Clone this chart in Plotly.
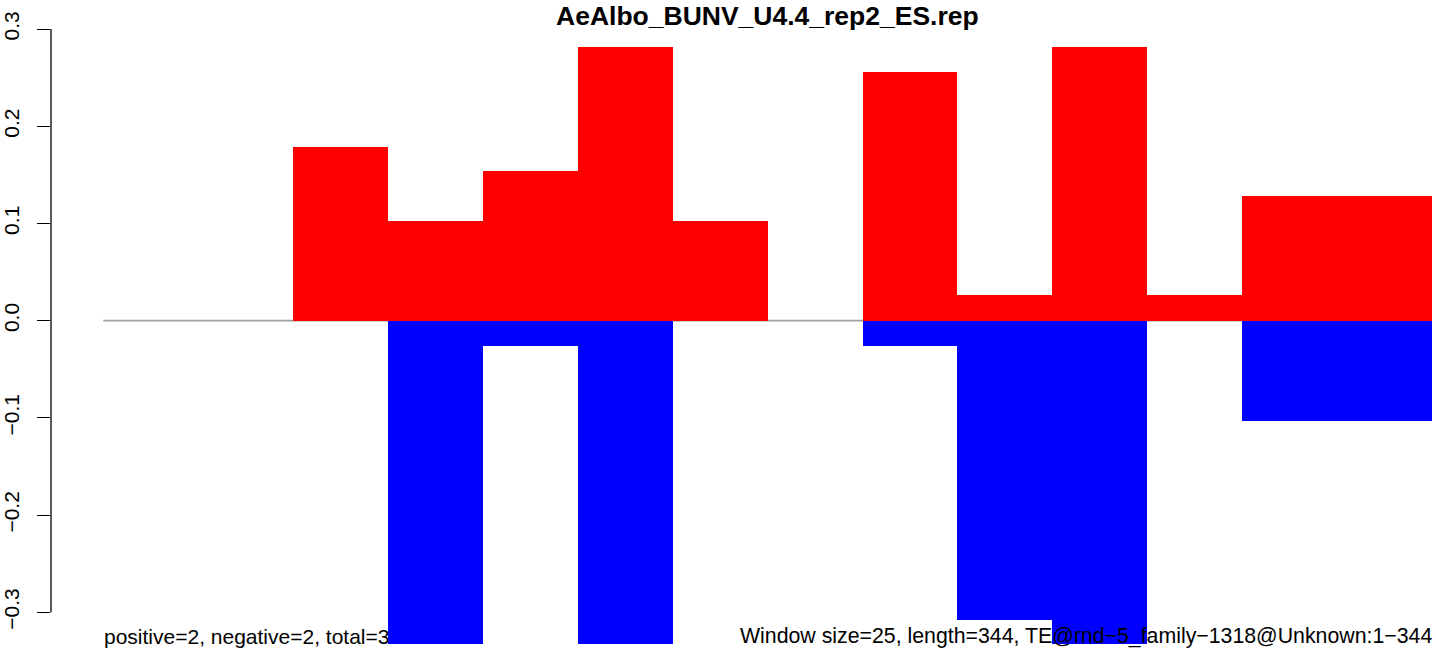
import plotly.graph_objects as go

# Data (per 25-bp window, 14 windows over length 344)
windows = list(range(14))
positive = [0, 0, 0.179, 0.103, 0.154, 0.282, 0.103, 0, 0.256, 0.026, 0.282, 0.026, 0.128, 0.128]
negative = [0, 0, 0, -0.333, -0.026, -0.333, 0, 0, -0.026, -0.308, -0.333, 0, -0.103, -0.103]
y_ticks = [-0.3, -0.2, -0.1, 0.0, 0.1, 0.2, 0.3]
y_tick_labels = ["\u22120.3", "\u22120.2", "\u22120.1", "0.0", "0.1", "0.2", "0.3"]

title_text = "AeAlbo_BUNV_U4.4_rep2_ES.rep"
left_note = "positive=2, negative=2, total=3"
right_note = "Window size=25, length=344, TE@rnd\u22125_family\u22121318@Unknown:1\u2212344"

W, H = 1436, 656
ML, MR, MT, MB = 51, 0, 29, 11
plot_w = W - ML - MR
plot_h = H - MT - MB

font_family = "Liberation Sans, Arial, Helvetica, sans-serif"

fig = go.Figure()
fig.add_trace(go.Bar(x=windows, y=positive, width=1, marker=dict(color="#FF0000", line=dict(width=0)),
                     showlegend=False, hoverinfo="skip"))
fig.add_trace(go.Bar(x=windows, y=negative, width=1, marker=dict(color="#0000FF", line=dict(width=0)),
                     showlegend=False, hoverinfo="skip"))

# zero line under bars
fig.add_shape(type="line", xref="x", yref="y", x0=windows[0] - 0.5, x1=windows[-1] + 0.5, y0=0, y1=0,
              line=dict(color="#A0A0A0", width=1.6), layer="below")
# y-axis line spanning tick range only (R style)
fig.add_shape(type="line", xref="paper", yref="y", x0=0, x1=0, y0=y_ticks[0], y1=y_ticks[-1],
              line=dict(color="black", width=1.3), layer="above")

def py(pix):
    return (H - MB - pix) / plot_h

def px(pix):
    return (pix - ML) / plot_w

fig.add_annotation(text=title_text, xref="paper", yref="paper", x=px(767.5), y=py(0),
                   xanchor="center", yanchor="top", showarrow=False, borderpad=0,
                   font=dict(family=font_family, size=26.5, color="black", weight="bold"))
fig.add_annotation(text=left_note, xref="paper", yref="paper", x=px(102), y=py(636),
                   xanchor="left", yanchor="middle", showarrow=False,
                   font=dict(family=font_family, size=21, color="black"))
fig.add_annotation(text=right_note, xref="paper", yref="paper", x=px(1434), y=py(636),
                   xanchor="right", yanchor="middle", showarrow=False,
                   font=dict(family=font_family, size=21.3, color="black"))

x_left = -0.5 - (103.3 - ML) / 94.9
x_right = x_left + plot_w / 94.9

fig.update_layout(
    width=W, height=H,
    margin=dict(l=ML, r=MR, t=MT, b=MB, pad=0),
    paper_bgcolor="white", plot_bgcolor="white",
    barmode="overlay", bargap=0,
    xaxis=dict(range=[x_left, x_right], visible=False, fixedrange=True),
    yaxis=dict(range=[-0.3337, 0.3], tickvals=y_ticks, ticktext=y_tick_labels,
               ticks="outside", ticklen=13, tickwidth=1.3, tickcolor="black",
               tickangle=-90, showline=False, showgrid=False, zeroline=False,
               tickfont=dict(family=font_family, size=21, color="black"),
               ticklabelstandoff=10, fixedrange=True),
)

fig.write_html("out.html", config={"displayModeBar": False},
               post_script="document.body.style.margin='0';document.body.style.overflow='hidden';")
